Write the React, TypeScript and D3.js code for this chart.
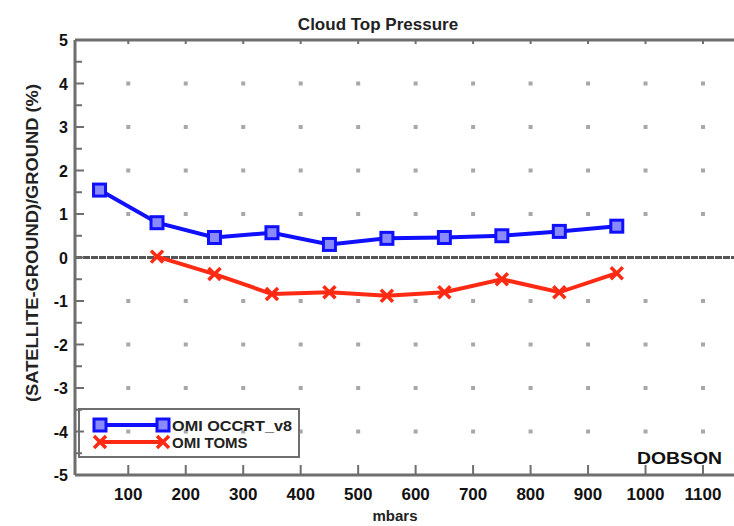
import React from "react";
import * as d3 from "d3";

const pressures = [50, 150, 250, 350, 450, 550, 650, 750, 850, 950];
const ocValues = [1.55, 0.8, 0.46, 0.57, 0.3, 0.44, 0.46, 0.5, 0.6, 0.72];
const tomsPressures = [150, 250, 350, 450, 550, 650, 750, 850, 950];
const tomsValues = [0.02, -0.38, -0.84, -0.8, -0.88, -0.8, -0.5, -0.8, -0.36];
const xTicks = [100, 200, 300, 400, 500, 600, 700, 800, 900, 1000, 1100];
const yTicks = [-5, -4, -3, -2, -1, 0, 1, 2, 3, 4, 5];
const seriesNames = ["OMI OCCRT_v8", "OMI TOMS"];

const FONT = "'Liberation Sans', Arial, Helvetica, sans-serif";

export default function App() {
  const W = 734, H = 526;
  const x = d3.scaleLinear().domain([0, 1100]).range([70.8, 703]);
  const y = d3.scaleLinear().domain([-5, 5]).range([475, 40]);
  const left = 75, right = 740, top = y(5), bottom = y(-5);
  const halfTicks = d3.range(-5, 5.01, 0.5);
  const gridY = yTicks.filter((v) => v !== 0 && Math.abs(v) !== 5);
  const line = d3.line<[number, number]>().x((d) => x(d[0])).y((d) => y(d[1]));
  const blueData = pressures.map((p, i) => [p, ocValues[i]] as [number, number]);
  const redData = tomsPressures.map((p, i) => [p, tomsValues[i]] as [number, number]);
  const blue = "#1010ff";
  const red = "#ff2a14";
  const axisCol = "#6e6e6e";

  const square = (cx: number, cy: number, k: string) => (
    <rect key={k} x={cx - 6} y={cy - 6} width={12} height={12} fill="#8a8aff" stroke={blue} strokeWidth={3} />
  );
  const cross = (cx: number, cy: number, k: string) => (
    <g key={k} stroke={red} strokeWidth={3.5}>
      <line x1={cx - 6} y1={cy - 6} x2={cx + 6} y2={cy + 6} />
      <line x1={cx - 6} y1={cy + 6} x2={cx + 6} y2={cy - 6} />
    </g>
  );

  return (
    <svg width={W} height={H} style={{ position: "absolute", left: 0, top: 0, background: "#fff" }} fontFamily={FONT}>
      <rect x={0} y={0} width={W} height={H} fill="#fff" />
      {/* grid dots */}
      {xTicks.flatMap((t) =>
        gridY.map((v) => (
          <rect key={`g${t}_${v}`} x={x(t) - 2} y={y(v) - 2} width={4} height={4} fill="#a8a8a8" />
        ))
      )}
      {/* zero line */}
      <line x1={left} x2={right} y1={y(0)} y2={y(0)} stroke="#555" strokeWidth={3} strokeDasharray="7,1" />
      {/* frame */}
      <line x1={left} x2={right} y1={top} y2={top} stroke={axisCol} strokeWidth={3} />
      <line x1={left} x2={right} y1={bottom} y2={bottom} stroke={axisCol} strokeWidth={3} />
      <line x1={left} x2={left} y1={top} y2={bottom} stroke={axisCol} strokeWidth={3} />
      {/* left ticks */}
      {halfTicks.map((v) => (
        <line key={`lt${v}`} x1={left} x2={left + (Number.isInteger(v) ? 9 : 7)} y1={y(v)} y2={y(v)} stroke={axisCol} strokeWidth={2} />
      ))}
      {/* bottom & top ticks */}
      {xTicks.map((t) => (
        <g key={`xt${t}`}>
          <line x1={x(t)} x2={x(t)} y1={bottom} y2={bottom - 10} stroke={axisCol} strokeWidth={2} />
          <line x1={x(t)} x2={x(t)} y1={top} y2={top + 4} stroke={axisCol} strokeWidth={2} />
        </g>
      ))}
      {/* tick labels */}
      {xTicks.map((t) => (
        <text key={`xl${t}`} x={x(t)} y={500} textAnchor="middle" fontSize={17} fontWeight="bold" fill="#111">
          {t}
        </text>
      ))}
      {yTicks.map((v) => (
        <text key={`yl${v}`} x={68} y={y(v) + 6} textAnchor="end" fontSize={16} fontWeight="bold" fill="#111">
          {v}
        </text>
      ))}
      {/* axis titles */}
      <text x={378} y={30} textAnchor="middle" fontSize={17} fontWeight="bold" fill="#222">
        Cloud Top Pressure
      </text>
      <text x={395} y={521} textAnchor="middle" fontSize={15} fontWeight="bold" fill="#222">
        mbars
      </text>
      <text
        transform={`translate(38,243) rotate(-90)`}
        textAnchor="middle"
        fontSize={16}
        fontWeight="bold"
        fill="#222"
        textLength={318}
        lengthAdjust="spacingAndGlyphs"
      >
        (SATELLITE-GROUND)/GROUND  (%)
      </text>
      <text x={637} y={464} fontSize={17} fontWeight="bold" fill="#111" textLength={85} lengthAdjust="spacingAndGlyphs">
        DOBSON
      </text>
      {/* series */}
      <path d={line(blueData) || ""} fill="none" stroke={blue} strokeWidth={4} />
      {blueData.map((d, i) => square(x(d[0]), y(d[1]), `b${i}`))}
      <path d={line(redData) || ""} fill="none" stroke={red} strokeWidth={4} />
      {redData.map((d, i) => cross(x(d[0]), y(d[1]), `r${i}`))}
      {/* legend */}
      <rect x={79} y={409} width={220} height={48} fill="none" stroke={axisCol} strokeWidth={2} />
      <line x1={100} x2={163} y1={425} y2={425} stroke={blue} strokeWidth={4} />
      {square(100, 425, "lb1")}
      {square(163, 425, "lb2")}
      <text x={172} y={431} fontSize={15} fontWeight="bold" fill="#222" textLength={120} lengthAdjust="spacingAndGlyphs">
        {seriesNames[0]}
      </text>
      <line x1={100} x2={163} y1={442} y2={442} stroke={red} strokeWidth={4} />
      {cross(100, 442, "lr1")}
      {cross(163, 442, "lr2")}
      <text x={172} y={448} fontSize={15} fontWeight="bold" fill="#222">
        {seriesNames[1]}
      </text>
    </svg>
  );
}
